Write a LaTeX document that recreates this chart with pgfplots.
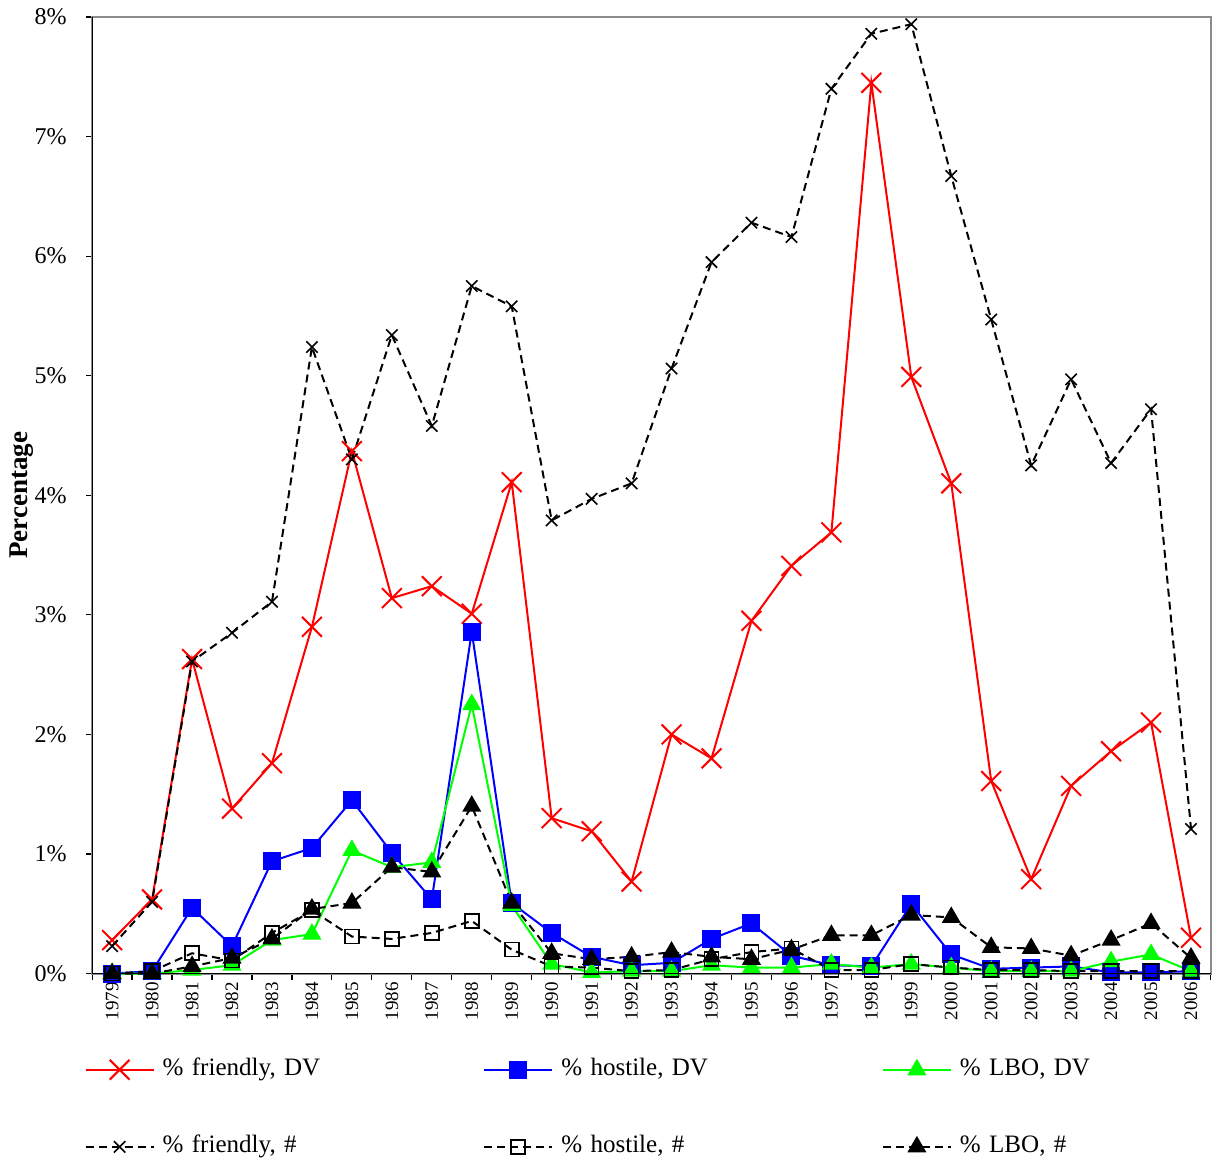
\documentclass[border=0pt]{standalone}
\usepackage{fontspec}
\setmainfont{Liberation Serif}
\usepackage{pgfplots}
\pgfplotsset{compat=1.18}
\definecolor{xlred}{RGB}{255,0,0}
\definecolor{xlblue}{RGB}{0,0,255}
\definecolor{xlgreen}{RGB}{0,255,0}
\begin{document}
\begin{tikzpicture}
\begin{axis}[
  scale only axis, width=558.5pt, height=477.5pt,
  xmin=1978.5, xmax=2006.5, ymin=0, ymax=8,
  clip=false,
  axis line style={draw=black!45, line width=1pt},
  xtick={1979,...,2006},
  minor xtick={1978.5,1979.5,...,2006.5},
  major x tick style={draw=none},
  minor x tick style={black, line width=0.6pt},
  minor tick length=3pt,
  tick align=outside,
  xtick pos=left, ytick pos=left,
  ytick={0,1,...,8},
  y tick style={black, line width=0.6pt},
  major tick length=3pt,
  /pgf/number format/assume math mode=true,
  xticklabel={\pgfmathprintnumber[1000 sep={}]{\tick}},
  yticklabel={\pgfmathprintnumber{\tick}\%},
  x tick label style={rotate=90, anchor=east, font=\fontsize{9.5}{10}\selectfont, inner sep=1pt},
  y tick label style={font=\fontsize{12}{13}\selectfont, inner ysep=2pt, inner xsep=9.5pt},
  ylabel={\textbf{Percentage}},
  ylabel style={font=\fontsize{13.5}{14}\selectfont},
  ylabel shift=-12.5pt,
  legend columns=3,
  legend style={at={(0,0)}, anchor=north west, draw=none, inner sep=0pt,
    xshift=-4pt, yshift=-41.8pt,
    font=\fontsize{12.5}{13}\selectfont,
    nodes={text width=120pt, inner sep=0pt, text height=9pt, text depth=3pt},
    /tikz/every odd column/.append style={column sep=4pt},
    /tikz/every even column/.append style={column sep=40pt},
    /tikz/row sep=26.5pt},
  legend image code/.code={\draw[mark repeat=2,mark phase=2,#1] plot coordinates {(0pt,0pt)(17pt,0pt)(34pt,0pt)};},
  after end axis/.code={\draw[black, line width=0.6pt] (rel axis cs:0,1) -- (rel axis cs:0,0) -- (rel axis cs:1,0);
     \path (rel axis cs:0,1) ++(0,8.5pt);
     \path (rel axis cs:0,0) ++(-46pt,-95.5pt);},
]
% friendly DV
\addplot[xlred, line width=1pt, mark=x, mark size=7pt, mark options={line width=1pt}] coordinates {
(1979,0.28)(1980,0.62)(1981,2.63)(1982,1.38)(1983,1.76)(1984,2.90)(1985,4.37)(1986,3.14)(1987,3.24)(1988,3.01)
(1989,4.11)(1990,1.30)(1991,1.19)(1992,0.77)(1993,2.00)(1994,1.80)(1995,2.95)(1996,3.41)(1997,3.69)(1998,7.45)
(1999,4.99)(2000,4.10)(2001,1.61)(2002,0.79)(2003,1.57)(2004,1.86)(2005,2.10)(2006,0.30)};
\addlegendentry{\% friendly, DV}
% hostile DV
\addplot[xlblue, line width=1pt, mark=square*, mark size=4pt] coordinates {
(1979,0.00)(1980,0.02)(1981,0.55)(1982,0.23)(1983,0.94)(1984,1.05)(1985,1.45)(1986,1.01)(1987,0.62)(1988,2.86)
(1989,0.59)(1990,0.34)(1991,0.14)(1992,0.07)(1993,0.09)(1994,0.29)(1995,0.42)(1996,0.15)(1997,0.07)(1998,0.06)
(1999,0.58)(2000,0.16)(2001,0.04)(2002,0.05)(2003,0.06)(2004,0.01)(2005,0.01)(2006,0.02)};
\addlegendentry{\% hostile, DV}
% LBO DV
\addplot[xlgreen, line width=1pt, mark=triangle*, mark size=4.5pt] coordinates {
(1979,0.00)(1980,0.00)(1981,0.03)(1982,0.07)(1983,0.28)(1984,0.33)(1985,1.03)(1986,0.89)(1987,0.93)(1988,2.25)
(1989,0.57)(1990,0.08)(1991,0.01)(1992,0.02)(1993,0.02)(1994,0.07)(1995,0.05)(1996,0.05)(1997,0.08)(1998,0.05)
(1999,0.08)(2000,0.05)(2001,0.02)(2002,0.02)(2003,0.02)(2004,0.10)(2005,0.16)(2006,0.02)};
\addlegendentry{\% LBO, DV}
% friendly #
\addplot[black, line width=1pt, dash pattern=on 4pt off 2.5pt, mark=x, mark size=4pt, mark options={solid, line width=0.8pt}] coordinates {
(1979,0.23)(1980,0.60)(1981,2.61)(1982,2.85)(1983,3.11)(1984,5.24)(1985,4.30)(1986,5.34)(1987,4.58)(1988,5.75)
(1989,5.58)(1990,3.79)(1991,3.97)(1992,4.10)(1993,5.06)(1994,5.95)(1995,6.28)(1996,6.16)(1997,7.40)(1998,7.86)
(1999,7.94)(2000,6.67)(2001,5.47)(2002,4.25)(2003,4.97)(2004,4.27)(2005,4.72)(2006,1.21)};
\addlegendentry{\% friendly, \#}
% hostile #
\addplot[black, line width=1pt, dash pattern=on 4pt off 2.5pt, mark=square, mark size=3.5pt, mark options={solid, fill=white, line width=0.8pt}] coordinates {
(1979,0.00)(1980,0.02)(1981,0.17)(1982,0.11)(1983,0.34)(1984,0.53)(1985,0.31)(1986,0.29)(1987,0.34)(1988,0.44)
(1989,0.20)(1990,0.06)(1991,0.05)(1992,0.02)(1993,0.03)(1994,0.12)(1995,0.18)(1996,0.21)(1997,0.03)(1998,0.03)
(1999,0.08)(2000,0.05)(2001,0.03)(2002,0.03)(2003,0.02)(2004,0.02)(2005,0.02)(2006,0.02)};
\addlegendentry{\% hostile, \#}
% LBO #
\addplot[black, line width=1pt, dash pattern=on 4pt off 2.5pt, mark=triangle*, mark size=4.5pt, mark options={solid}] coordinates {
(1979,0.00)(1980,0.00)(1981,0.06)(1982,0.13)(1983,0.29)(1984,0.54)(1985,0.59)(1986,0.89)(1987,0.85)(1988,1.40)
(1989,0.59)(1990,0.17)(1991,0.12)(1992,0.14)(1993,0.18)(1994,0.14)(1995,0.12)(1996,0.20)(1997,0.32)(1998,0.32)
(1999,0.49)(2000,0.47)(2001,0.22)(2002,0.21)(2003,0.15)(2004,0.28)(2005,0.42)(2006,0.13)};
\addlegendentry{\% LBO, \#}
\end{axis}
\end{tikzpicture}
\end{document}
